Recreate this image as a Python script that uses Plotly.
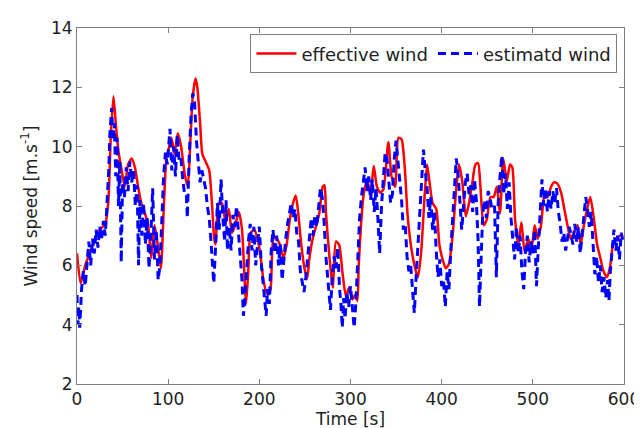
import plotly.graph_objects as go

# effective wind (red solid) - time [s], speed [m/s]
red_t = [0, 4, 9, 15, 20, 25, 31, 34.5, 37, 40, 43, 45.5, 49, 52.5, 56, 60, 63.5, 67, 70.5, 74, 78, 81.5, 85, 88.5, 92, 95, 98,
         100, 103.5, 107, 110.5, 114, 118, 121.5, 124.5, 127, 130, 132, 135, 137.5, 141, 145, 148, 150.5, 152, 155.5, 159, 163, 166.5, 170, 173.5, 177.5, 181, 184, 185.5, 188, 190.5, 194.5, 198,
         201, 204.5, 208.5, 212, 215.5, 219, 222.5, 226.5, 230, 233.5, 237, 240, 242.5, 246, 249.5, 252.5, 255, 258.5, 262.5, 266, 269.5, 271.5, 273, 277, 280.5, 284, 287.5, 291, 295, 298.5,
         302, 305, 307.5, 309, 311.5, 314.5, 318, 322, 325.5, 329, 332.5, 336, 341.5, 345, 349, 352.5, 356, 359.5, 363, 368.5, 374, 377.5, 381, 384, 386.5, 390, 394, 397.5,
         401, 404.5, 408, 412, 415.5, 419, 422.5, 426.5, 430, 433.5, 437, 440, 442.5, 446, 449.5, 453.5, 457, 460.5, 464, 467.5, 471.5, 475, 477.5, 480.5, 484, 487.5, 491, 495, 498.5,
         502, 505.5, 509, 513, 516.5, 520, 523.5, 527, 531, 534.5, 538, 541.5, 545, 549, 552.5, 556, 559.5, 563, 567, 570.5, 574, 577.5, 581.5, 585, 588.5, 592, 595.5, 599]
red_v = [6.4, 5.4, 6.0, 6.5, 6.9, 7.2, 7.4, 8.2, 10.3, 11.7, 10.6, 9.85, 9.2, 8.65, 9.4, 9.6, 9.3, 8.65, 8.1, 7.8, 7.35, 6.25, 7.35, 6.7, 5.9, 7.8, 9.6,
         9.85, 10.3, 9.75, 10.45, 10.05, 9.1, 8.65, 10.3, 11.7, 12.3, 12.0, 10.8, 9.75, 9.5, 9.2, 8.1, 6.9, 6.7, 8.1, 8.1, 7.45, 7.9, 7.1, 7.35, 7.8, 7.2, 5.4, 4.7, 5.9, 7.1, 7.2, 6.9,
         6.4, 5.5, 5.05, 5.15, 6.9, 6.9, 6.7, 6.25, 6.7, 7.55, 8.1, 8.35, 7.8, 6.7, 5.9, 5.55, 6.25, 6.9, 7.35, 7.8, 8.65, 8.7, 7.8, 6.25, 5.25, 6.8, 6.7, 5.8, 4.95, 5.25,
         4.85, 5.0, 4.8, 6.0, 7.35, 8.4, 8.85, 8.45, 9.35, 8.65, 8.45, 8.55, 10.15, 9.0, 8.65, 10.3, 10.25, 9.3, 7.55, 6.25, 5.6, 6.45, 8.2, 9.4, 8.85, 8.1, 7.9, 6.7,
         6.2, 5.9, 6.05, 7.0, 8.4, 9.4, 8.85, 7.65, 8.1, 8.75, 9.4, 9.45, 8.65, 7.35, 7.55, 8.3, 8.3, 8.65, 7.75, 9.6, 8.85, 9.4, 9.3, 7.55, 6.7, 7.45, 6.45, 6.9, 6.55,
         7.35, 6.9, 7.35, 8.45, 8.3, 8.65, 8.8, 8.75, 8.45, 7.9, 7.35, 6.9, 7.1, 7.35, 6.7, 7.35, 7.9, 8.3, 7.55, 6.7, 6.25, 5.8, 5.6, 6.0, 6.8, 6.9, 7.0, 7.0]

# estimated wind (blue dashed)
blue_t = [0, 1, 2, 3, 5, 7, 9, 11, 13, 15, 17, 19, 21, 23, 25, 27, 29, 31, 33, 35, 36, 38, 39.5, 41, 42.5, 44, 45.5, 47, 48.5, 50,
          52, 54, 56, 58, 60, 62, 64, 66, 67.5, 69, 71, 73, 75, 77, 79, 81, 83, 85, 87, 89, 91, 93, 95, 97, 99,
          100, 102, 104, 106, 108, 110, 112, 114, 116, 118, 120, 121, 123, 125, 127, 129, 131, 133, 135, 137, 139, 141, 143, 145, 147, 149, 150,
          152, 154, 156, 158, 160, 162, 163.5, 165, 167, 169, 171, 173, 175, 177, 179, 181, 182.5, 184, 186, 188, 190, 192, 194, 196, 198,
          200, 202, 204, 206, 207.5, 209, 211, 213, 215, 217, 219, 221, 223, 225, 227, 229, 231, 233, 235, 237, 239, 241, 243, 245, 247, 249,
          251, 253, 255, 257, 259, 261, 263, 265, 267, 269, 271, 273, 275, 277, 278, 280, 282, 284, 286, 288, 289.5, 291, 292.5, 294, 296, 298,
          300, 302, 304, 306, 308, 310, 312, 314, 316, 318, 320, 322, 324, 326, 328, 330, 332, 334, 336, 338, 340, 342, 344, 346, 348,
          350, 352, 354, 356, 358, 360, 362, 364, 366, 368, 370, 372, 374, 376, 378, 380, 382, 384, 386, 388, 390, 392, 394, 396, 398,
          400, 402, 404, 406, 408, 410, 412, 414, 416, 418, 420, 422, 424, 426, 428, 430, 432, 434, 436, 438, 440, 441.5, 443, 445, 447, 449,
          451, 453, 455, 458, 460, 462, 464, 466, 468, 470, 472, 474, 476, 478, 480, 482, 484, 486, 488, 490, 492, 494, 496, 498,
          500, 502, 504, 506, 508, 510, 512, 514, 516, 518, 520, 522, 524, 526, 528, 530, 532, 534, 536, 538, 540, 542, 544, 546, 548,
          550, 552, 554, 556, 558, 560, 562, 564, 566, 568, 570, 572, 574, 576, 578, 580, 582, 583.5, 585, 587, 589, 591, 593, 595, 597, 599]
blue_v = [5.0, 4.0, 4.6, 3.9, 5.2, 5.8, 5.3, 6.2, 6.8, 6.0, 6.9, 6.4, 7.2, 6.6, 7.3, 6.9, 7.5, 7.0, 8.0, 9.3, 10.4, 11.3, 10.2, 10.8, 9.0, 10.3, 8.0, 9.5, 6.1, 8.8,
          8.3, 9.3, 8.5, 9.5, 8.8, 9.2, 8.0, 8.7, 6.0, 8.2, 7.0, 8.1, 6.7, 7.6, 5.9, 7.0, 8.6, 6.2, 7.2, 5.5, 6.0, 7.5, 9.0, 9.8, 9.4,
          9.8, 10.6, 9.2, 10.0, 9.0, 10.4, 9.5, 9.6, 8.9, 8.4, 8.4, 7.6, 9.6, 11.0, 11.8, 11.5, 10.2, 9.5, 8.8, 9.2, 8.9, 8.6, 8.0, 7.6, 6.8, 6.0, 5.4,
          6.6, 8.1, 7.2, 8.9, 7.6, 6.8, 8.2, 6.5, 7.3, 6.5, 7.7, 7.3, 8.0, 7.0, 6.3, 5.5, 4.3, 4.8, 6.0, 6.8, 7.4, 6.5, 7.3, 6.0, 6.7,
          7.3, 6.1, 5.4, 4.6, 4.3, 5.2, 4.7, 6.5, 7.2, 6.4, 7.0, 6.0, 6.7, 5.5, 6.3, 6.9, 7.4, 7.8, 8.1, 7.6, 7.9, 7.1, 6.8, 5.8, 5.4, 5.1,
          5.6, 6.2, 6.9, 7.6, 7.0, 7.7, 7.3, 8.1, 8.6, 8.3, 7.5, 6.3, 5.6, 5.0, 4.5, 5.6, 6.3, 5.9, 6.6, 5.2, 4.7, 3.9, 4.9, 4.2, 5.1, 4.6,
          5.3, 4.6, 3.9, 4.8, 6.5, 7.6, 8.3, 8.8, 9.3, 8.5, 9.0, 8.2, 8.9, 7.8, 8.6, 7.6, 6.4, 8.0, 9.0, 9.8, 9.6, 8.9, 8.1, 8.4, 9.6,
          10.2, 9.5, 9.0, 8.2, 7.2, 7.4, 6.3, 5.8, 6.0, 5.3, 4.4, 5.6, 6.6, 7.6, 8.6, 9.9, 9.2, 8.6, 7.6, 8.3, 7.2, 7.8, 6.5, 5.6, 6.2,
          5.3, 5.5, 4.6, 5.8, 5.2, 6.5, 7.5, 8.6, 9.6, 9.1, 8.3, 7.2, 8.0, 8.8, 9.1, 8.4, 8.7, 7.8, 8.9, 8.2, 6.8, 4.6, 6.0, 7.7, 8.2, 7.6,
          8.5, 8.3, 7.9, 8.0, 5.6, 8.1, 9.0, 9.7, 8.4, 9.1, 7.9, 8.8, 7.6, 6.8, 6.2, 7.3, 6.4, 7.0, 5.8, 5.2, 6.5, 7.0, 6.1, 6.8,
          6.4, 7.2, 5.3, 6.6, 7.8, 8.9, 8.0, 8.6, 7.8, 8.5, 7.9, 8.5, 8.1, 8.6, 7.8, 7.4, 6.8, 7.1, 6.5, 6.9, 7.3, 7.0, 6.7, 7.4, 6.8,
          7.3, 6.4, 7.0, 7.6, 8.3, 7.9, 7.3, 7.8, 6.6, 5.7, 6.3, 5.4, 6.0, 5.1, 5.6, 4.9, 5.5, 4.8, 5.8, 6.5, 7.2, 6.5, 7.0, 6.2, 7.1, 6.8]

x_ticks = [0, 100, 200, 300, 400, 500, 600]
y_ticks = [2, 4, 6, 8, 10, 12, 14]

FONT = "DejaVu Sans, Liberation Sans, Arial, sans-serif"
AXIS_COLOR = "#7f7f7f"
TEXT_COLOR = "#222222"

fig = go.Figure()
fig.add_trace(go.Scatter(x=red_t, y=red_v, mode="lines", name="effective wind",
                         line=dict(color="#ff0000", width=2.5, shape="spline", smoothing=0.6)))
fig.add_trace(go.Scatter(x=blue_t, y=blue_v, mode="lines", name="estimatd wind",
                         line=dict(color="#0000ff", width=3, dash="8px,5px")))

axis_common = dict(showline=True, linecolor=AXIS_COLOR, linewidth=1, mirror="ticks",
                   ticks="inside", ticklen=5, tickcolor=AXIS_COLOR, showgrid=False,
                   zeroline=False, tickfont=dict(family=FONT, size=17, color=TEXT_COLOR))

fig.update_xaxes(range=[0, 600], tickvals=x_ticks,
                 title=dict(text="Time [s]", font=dict(family=FONT, size=17, color=TEXT_COLOR), standoff=2),
                 **axis_common)
fig.update_yaxes(range=[2, 14], tickvals=y_ticks,
                 title=dict(text="Wind speed [m.s<sup>-1</sup>]", font=dict(family=FONT, size=17, color=TEXT_COLOR), standoff=9),
                 **axis_common)

fig.update_layout(
    width=642, height=428,
    margin=dict(l=69, r=18, t=10, b=52),
    paper_bgcolor="white", plot_bgcolor="white",
    showlegend=True,
    legend=dict(orientation="h", x=0.988, y=0.982, xanchor="right", yanchor="top",
                bgcolor="white", bordercolor=AXIS_COLOR, borderwidth=1,
                font=dict(family=FONT, size=18, color=TEXT_COLOR),
                itemwidth=40, tracegroupgap=0),
)

fig.write_html("out.html")
